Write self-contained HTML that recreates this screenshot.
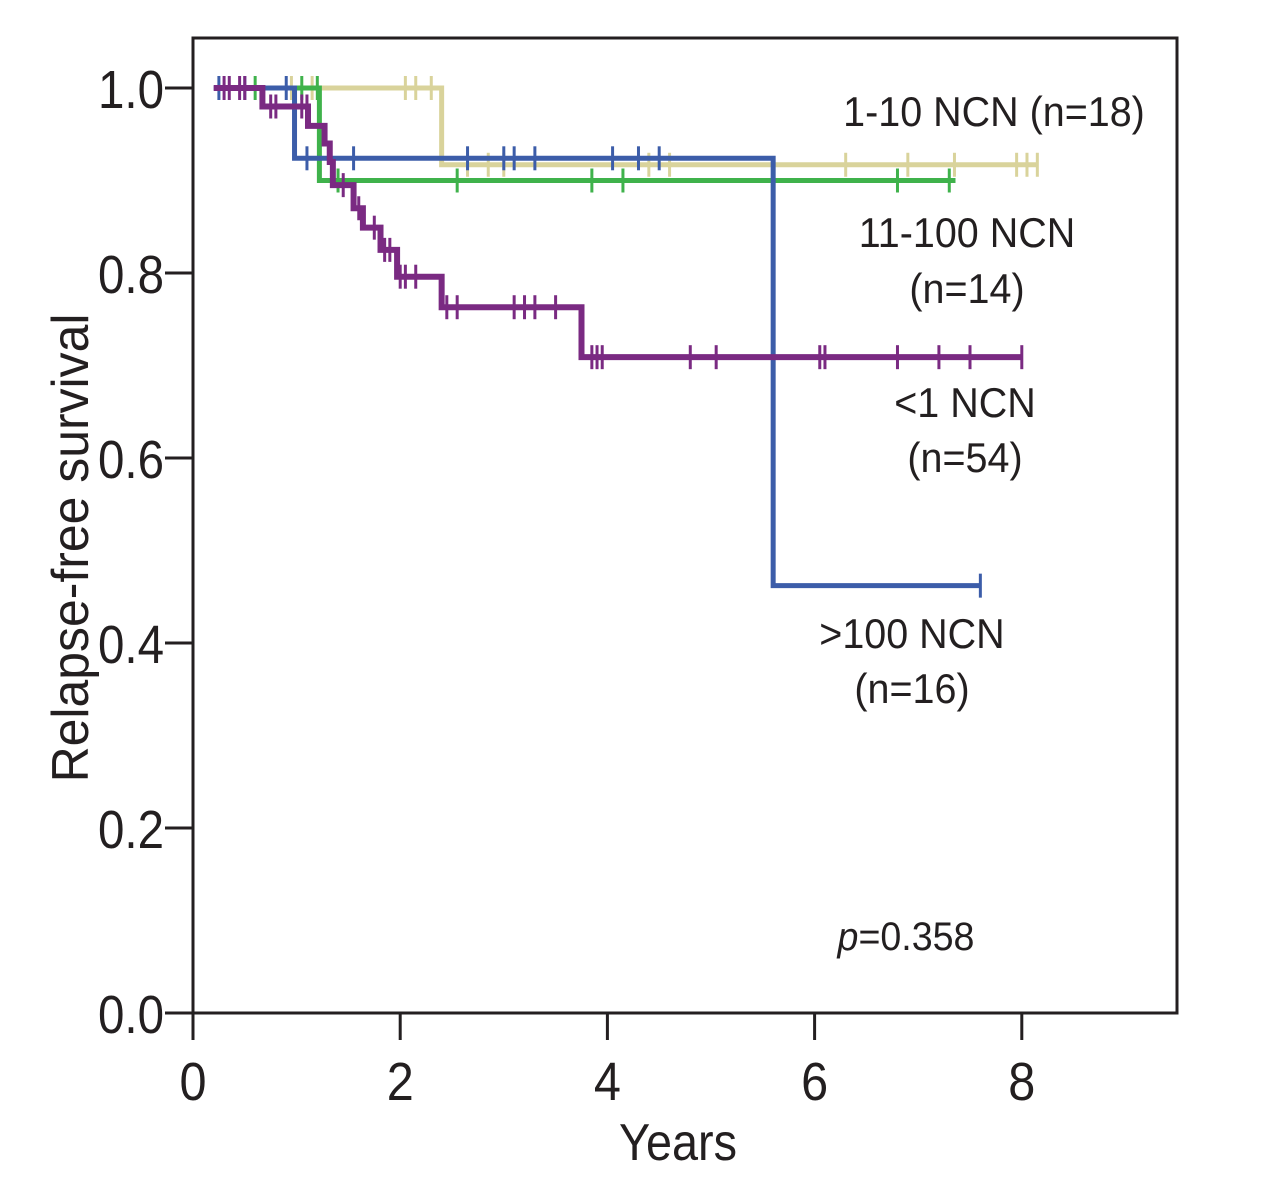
<!DOCTYPE html>
<html><head><meta charset="utf-8">
<style>
html,body{margin:0;padding:0;background:#fff;}
svg{display:block;}
text{font-family:"Liberation Sans Narrow","Liberation Sans",sans-serif;fill:#231f20;}
</style></head>
<body>
<svg id="chart" width="1280" height="1191" viewBox="0 0 1280 1191" xmlns="http://www.w3.org/2000/svg">
<rect x="193" y="38" width="984" height="975" fill="none" stroke="#231f20" stroke-width="3"/>
<g id="axes"></g>
<g id="series"></g>
<text transform="translate(88,548) rotate(-90) scale(0.96,1)" text-anchor="middle" font-size="52">Relapse-free survival</text>
<text transform="translate(678,1160) scale(0.9,1)" text-anchor="middle" font-size="52">Years</text>
<text transform="translate(994,126) scale(0.94,1)" text-anchor="middle" font-size="42">1-10 NCN (n=18)</text>
<text transform="translate(967,247) scale(0.94,1)" text-anchor="middle" font-size="42">11-100 NCN</text>
<text transform="translate(967,303) scale(0.94,1)" text-anchor="middle" font-size="42">(n=14)</text>
<text transform="translate(965,417) scale(0.94,1)" text-anchor="middle" font-size="42">&lt;1 NCN</text>
<text transform="translate(965,472) scale(0.94,1)" text-anchor="middle" font-size="42">(n=54)</text>
<text transform="translate(912,648) scale(0.94,1)" text-anchor="middle" font-size="42">&gt;100 NCN</text>
<text transform="translate(912,703) scale(0.94,1)" text-anchor="middle" font-size="42">(n=16)</text>
<text transform="translate(906,950) scale(0.94,1)" text-anchor="middle" font-size="40"><tspan font-style="italic">p</tspan>=0.358</text>
</svg>
<script>
const xTicks = [0, 2, 4, 6, 8];
const yTicks = [0.0, 0.2, 0.4, 0.6, 0.8, 1.0];
const yTickLabels = ["0.0", "0.2", "0.4", "0.6", "0.8", "1.0"];

// step curves: [time, survival] change points; last entry is end of follow-up
const purpleSteps = [[0.2,1.0],[0.67,0.98],[1.11,0.959],[1.27,0.94],[1.32,0.92],[1.35,0.895],[1.55,0.87],[1.64,0.849],[1.81,0.825],[1.97,0.796],[2.4,0.763],[3.75,0.709],[8.0,0.709]];
const blueSteps = [[0.2,1.0],[0.98,0.924],[5.6,0.462],[7.6,0.462]];
const greenSteps = [[0.55,1.0],[1.22,0.9],[7.36,0.9]];
const yellowSteps = [[0.6,1.0],[2.4,0.917],[8.15,0.917]];

const purpleCensor = [0.3,0.35,0.45,0.5,0.75,0.8,1.05,1.1,1.45,1.6,1.75,1.85,1.9,2.0,2.05,2.15,2.45,2.55,3.1,3.2,3.3,3.5,3.85,3.9,3.95,4.8,5.05,6.05,6.1,6.8,7.2,7.5,8.0];
const blueCensor = [0.25,0.5,0.9,1.1,1.55,2.65,3.0,3.1,3.3,4.05,4.3,4.5,7.6];
const greenCensor = [0.6,1.05,1.2,1.4,2.55,3.85,4.15,6.8,7.3];
const yellowCensor = [0.95,1.15,2.05,2.15,2.3,2.65,2.85,3.0,4.4,4.6,6.3,6.9,7.35,7.95,8.05,8.15];

const NS = "http://www.w3.org/2000/svg";
const X = t => 193 + t * 103.6;
const Y = v => 1013 - v * 925;
const axes = document.getElementById('axes');
const series = document.getElementById('series');

xTicks.forEach(t => {
  const l = document.createElementNS(NS, 'line');
  
  
  l.setAttribute('x1', X(t)); l.setAttribute('x2', X(t));
  l.setAttribute('y1', 1013); l.setAttribute('y2', 1040);
  l.setAttribute('stroke', '#231f20'); l.setAttribute('stroke-width', 3);
  axes.appendChild(l);
  const tx = document.createElementNS(NS, 'text');
  
  
  tx.setAttribute('transform', `translate(${X(t)},1100) scale(0.9,1)`);
  tx.setAttribute('text-anchor', 'middle'); tx.setAttribute('font-size', '54');
  tx.textContent = String(t);
  axes.appendChild(tx);
});
yTicks.forEach((v, i) => {
  const l = document.createElementNS(NS, 'line');
  
  
  l.setAttribute('x1', 165); l.setAttribute('x2', 193);
  l.setAttribute('y1', Y(v)); l.setAttribute('y2', Y(v));
  l.setAttribute('stroke', '#231f20'); l.setAttribute('stroke-width', 3);
  axes.appendChild(l);
  const tx = document.createElementNS(NS, 'text');
  
  
  tx.setAttribute('transform', `translate(164,${Y(v) + 20}) scale(0.88,1)`);
  tx.setAttribute('text-anchor', 'end'); tx.setAttribute('font-size', '54');
  tx.textContent = yTickLabels[i];
  axes.appendChild(tx);
});

function stepValue(steps, t) {
  let v = steps[0][1];
  for (const s of steps) { if (s[0] <= t) v = s[1]; }
  return v;
}
function drawSeries(name, steps, censor, color, width) {
  let d = `M${X(steps[0][0])},${Y(steps[0][1])}`;
  for (let i = 1; i < steps.length; i++) {
    d += ` H${X(steps[i][0])} V${Y(steps[i][1])}`;
  }
  const p = document.createElementNS(NS, 'path');
  
  
  p.setAttribute('d', d);
  p.setAttribute('fill', 'none'); p.setAttribute('stroke', color);
  p.setAttribute('stroke-width', width);
  series.appendChild(p);
  censor.forEach(t => {
    const v = stepValue(steps, t);
    const c = document.createElementNS(NS, 'line');
    
    
    c.setAttribute('x1', X(t)); c.setAttribute('x2', X(t));
    c.setAttribute('y1', Y(v) - 12); c.setAttribute('y2', Y(v) + 12);
    c.setAttribute('stroke', color); c.setAttribute('stroke-width', 3);
    series.appendChild(c);
  });
}
drawSeries('yellow-1-10', yellowSteps, yellowCensor, '#d9d39b', 5);
drawSeries('green-11-100', greenSteps, greenCensor, '#3fb24b', 5);
drawSeries('blue-gt100', blueSteps, blueCensor, '#3c5da9', 5);
drawSeries('purple-lt1', purpleSteps, purpleCensor, '#7a2a82', 6);
</script>
</body></html>
